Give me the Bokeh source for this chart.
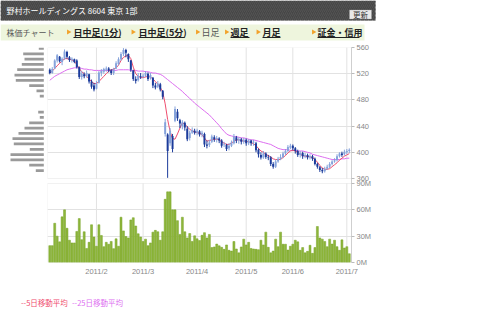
from bokeh.plotting import figure
from bokeh.layouts import column, row
from bokeh.models import Range1d, FixedTicker, ColumnDataSource, BoxAnnotation, Label
from bokeh.embed import file_html
from bokeh.resources import INLINE

# ---------------- data ----------------
opens = [526,521,528,540,546,538,543,553,545,541,542,540,530,515,519,516,519,508,502,497,
         506,521,523,526,528,525,521,528,535,542,550,556,550,540,525,512,510,516,515,517,
         520,513,514,502,500,504,494,428,427,414,425,448,462,449,440,445,436,422,430,433,
         430,432,427,428,412,411,416,423,420,421,418,411,411,406,410,414,423,418,420,416,
         419,414,418,415,414,404,396,392,398,393,392,382,378,386,390,393,398,402,407,410,
         406,402,396,399,394,396,392,394,390,382,377,373,371,375,378,382,386,388,394,398,
         397,400,402]
highs = [528,530,542,550,547,545,557,555,547,545,543,542,531,524,522,525,520,511,506,509,
         524,527,529,531,530,527,529,539,545,553,559,558,551,541,526,516,521,521,520,524,
         522,521,515,506,509,506,495,451,429,437,428,470,466,451,449,447,440,433,438,436,
         436,434,433,430,418,419,427,426,425,423,420,416,413,414,418,428,425,423,422,422,
         421,420,419,419,416,406,400,402,400,396,394,385,389,393,397,401,405,411,413,412,
         408,404,402,401,399,398,397,396,392,384,379,376,378,381,385,388,391,397,400,401,
         404,405,406]
lows = [519,520,527,537,537,533,541,543,538,537,536,528,512,511,513,514,505,497,493,496,
        505,516,520,523,522,518,518,527,533,540,547,545,538,523,509,505,508,512,513,515,
        509,511,498,496,498,493,481,424,361,410,400,446,448,437,435,433,417,418,428,427,
        426,424,423,408,406,408,414,416,415,414,407,408,402,403,408,412,414,413,412,413,
        410,411,410,410,400,392,389,390,390,388,379,375,376,384,388,391,396,400,405,403,
        398,393,392,390,391,389,389,387,380,375,370,368,369,373,376,380,384,386,392,393,
        395,397,399]
closes = [521,527,540,548,539,543,554,546,541,543,538,530,515,520,516,521,508,500,496,505,
          522,524,527,528,525,521,527,536,542,550,556,552,542,526,512,509,517,515,517,521,
          512,518,502,499,505,496,485,446,402,433,405,466,452,444,446,438,420,430,434,430,
          433,427,430,412,410,415,424,420,422,418,410,412,405,410,415,424,418,420,416,419,
          414,418,414,416,403,397,392,398,393,392,382,378,386,390,393,398,402,408,410,406,
          402,396,399,394,396,392,394,390,382,378,373,371,375,378,382,386,388,394,398,396,
          401,402,404]
ma5 = [521,524,528,532,536,539,543,543,542,541,539,534,528,523,520,516,512,508,505,505,
       508,512,516,520,524,526,527,529,533,540,545,547,548,543,530,520,516,514,514,515,
       516,515,512,508,504,499,492,474,450,432,421,420,428,437,445,443,439,435,433,431,
       430,429,427,422,417,418,419,420,420,419,416,414,412,412,414,417,419,419,418,417,
       417,416,415,413,410,406,402,400,397,395,393,390,389,389,389,392,395,399,402,403,
       402,400,397,395,394,394,393,392,389,385,380,376,374,374,375,378,381,384,388,391,
       394,396,398]
ma25 = [510,513,516,518,520,522,524,526,527,528,529,529,529,528,527,527,526,526,525,525,
        525,525,525,525,525,525,525,525,526,526,526,526,526,525,525,525,524,524,524,523,
        523,522,521,521,520,519,517,514,511,508,505,502,499,496,493,489,486,482,479,475,
        472,469,466,463,460,457,453,449,445,441,436,432,428,426,425,424,424,423,422,422,
        421,420,419,419,418,417,416,415,414,413,412,410,408,406,405,404,404,404,403,403,
        403,402,402,402,401,400,399,397,396,395,394,393,392,391,390,389,389,389,389,390,
        390,391,391]
volume_m = [19.2,19.2,44.7,30,23.5,52,60,39,25.4,22.3,22.3,35.4,50,26,35,16,23,43,29,18.5,
            43,30.8,18,23,20.8,24,15.8,27,18.5,51.6,36,29.6,28,48.5,51,41.6,32.7,29,24,26.6,
            19.2,22.3,34.6,36.6,35,25.4,35,72,80.5,80.5,60,60,47.7,32,51.6,35,28,33,24,30.4,
            27,25,31,34,28,32,17,17.7,21,19,17.3,15,20,13.9,13,23.9,15.4,11,17.7,26.6,
            20,23,16,15.4,15,14.6,25.4,20,34.6,17.3,11,13,26.6,18,34.6,20.8,20.8,14.2,18.5,20.8,
            25.4,23.5,13.9,17,11,12.7,19.6,10.4,17,41,28,26.6,24,18,26.6,21,25.4,18,13.9,25.8,
            16.5,18,10]
month_idx = [19, 38, 60, 80, 99, 121]
month_labels = ["2011/2", "2011/3", "2011/4", "2011/5", "2011/6", "2011/7"]
price_ticks = [360, 400, 440, 480, 520, 560]
volume_ticks = [0, 30, 60, 90]
volume_tick_labels = ["0M", "30M", "60M", "90M"]
hist_price = [558.5,550.4,542.3,534.2,526.1,518.0,509.9,501.8,493.7,485.6,477.5,469.4,
              461.3,453.2,445.1,437.0,428.9,420.8,412.7,404.6,396.5,388.4,380.3,372.2]
hist_vol = [5,20.6,19.3,22,26.6,29.3,28,14.6,7.3,4,0,0,
            5.6,4,14.6,19.3,25.3,31.3,30,14,33.3,33.3,14.6,8]

title_text = "野村ホールディングス 8604 東京 1部"
button_text = "更新"
tab_label = "株価チャート"
tabs = ["日中足(1分)", "日中足(5分)", "日足", "週足", "月足", "証金・信用"]
tab_active = [True, True, False, True, True, True]
legend_texts = ["--5日移動平均", "--25日移動平均"]

# ---------------- style / layout constants ----------------
JP = "Noto Sans CJK JP"
UP, DOWN = "#86a3db", "#1b3b9b"
MA5_C, MA25_C = "#ef4d6e", "#dd6ef0"
GRID_C = "#e2e2e2"
BORDER_C = "#cfcfcf"
LABEL_C = "#888888"
PRICE_LO, PRICE_HI, VOL_HI = price_ticks[0], price_ticks[-1], volume_ticks[-1]
PRICE_PX, GAP_PX, VOL_PX = 131, 5, 79          # panel heights in pixels
FL, FR = 47, 129                               # frame borders left/right

n = len(closes)
idx = list(range(n))
colors = [UP if c >= o else DOWN for o, c in zip(opens, closes)]
src = ColumnDataSource(dict(
    x=idx, l=lows, h=highs,
    top=[max(o, c) for o, c in zip(opens, closes)],
    bot=[min(o, c) for o, c in zip(opens, closes)],
    color=colors, ma5=ma5, ma25=ma25, vol=volume_m))

xr = Range1d(-0.94, 122.9)

def page_fig(h):
    # a full-page-width figure whose data coordinates equal its pixels
    f = figure(width=480, height=h, x_range=Range1d(0, 480), y_range=Range1d(h, 0),
               x_axis_location=None, y_axis_location=None, toolbar_location=None,
               output_backend="svg", min_border=0, min_border_left=0, min_border_right=0,
               min_border_top=0, min_border_bottom=0)
    f.grid.visible = False
    f.outline_line_color = None
    return f

# ---------------- header ----------------
hdr = page_fig(44)
hdr.add_layout(BoxAnnotation(left=0, right=375, top=0, bottom=20, fill_color="#464646",
                             fill_alpha=1, line_color=None,
                             hatch_pattern="right_diagonal_line", hatch_color="#535353",
                             hatch_scale=4, hatch_weight=1))
hdr.add_layout(Label(x=6, y=10, text=title_text, text_font=JP, text_font_size="8px",
                     text_color="white", text_baseline="middle"))
hdr.add_layout(BoxAnnotation(left=349, right=371, top=9.5, bottom=18.5, fill_color="#e8e8e8",
                             fill_alpha=1, line_color="#a0a0a0", line_width=1))
hdr.add_layout(Label(x=360, y=14, text=button_text, text_font=JP, text_font_size="7.5px",
                     text_color="#333333", text_align="center", text_baseline="middle"))
hdr.add_layout(BoxAnnotation(left=0, right=364, top=24, bottom=40, fill_color="#eef5dd",
                             fill_alpha=1, line_color=None, level="underlay"))
hdr.add_layout(Label(x=6, y=31.5, text=tab_label, text_font=JP, text_font_size="8px",
                     text_color="#555555", text_baseline="middle"))
tab_x = [73, 138, 201, 230, 262, 317]
tab_end = [120, 184, 217, 249, 280, 359]
tri_x = [68, 132.5, 197, 226, 257.5, 313]
hdr.scatter(x=tri_x, y=[31.5] * 6, marker="triangle", size=5, angle=-1.5708,
            fill_color="#f2a22a", line_color=None)
for t, xx, xe, act in zip(tabs, tab_x, tab_end, tab_active):
    hdr.add_layout(Label(x=xx, y=31.5, text=t, text_font=JP, text_font_size="9px",
                         text_font_style="bold" if act else "normal",
                         text_color="#222222" if act else "#555555", text_baseline="middle"))
    if act:
        hdr.add_layout(BoxAnnotation(left=xx, right=xe, top=36.5, bottom=37.5,
                                     fill_color="#222222", fill_alpha=1, line_color=None))

# ---------------- main chart (price + volume share one canvas) ----------------
price_start = PRICE_LO - (GAP_PX + VOL_PX) / PRICE_PX * (PRICE_HI - PRICE_LO)
vol_end = VOL_HI * (VOL_PX + GAP_PX + PRICE_PX) / VOL_PX
pyr = Range1d(price_start, PRICE_HI)
# volume tick positions expressed on the price scale (one shared right axis)
vol_tick_pos = [price_start + v / vol_end * (PRICE_HI - price_start) for v in volume_ticks]

main_h = 3 + PRICE_PX + GAP_PX + VOL_PX + 18
main = figure(width=480 - FL, height=main_h, x_range=xr, y_range=pyr,
              x_axis_location="below", y_axis_location="right", toolbar_location=None,
              output_backend="svg", min_border_left=0, min_border_right=FR,
              min_border_top=3, min_border_bottom=18)
main.extra_y_ranges = {"vol": Range1d(0, vol_end)}
main.outline_line_color = None
main.xgrid.visible = False
main.ygrid.ticker = FixedTicker(ticks=price_ticks[1:-1] + vol_tick_pos[1:-1])
main.ygrid.grid_line_color = GRID_C
main.segment(x0=month_idx, y0=[PRICE_LO] * 6, x1=month_idx, y1=[PRICE_HI] * 6,
             line_color=GRID_C, level="underlay")
main.segment(x0=month_idx, y0=[0] * 6, x1=month_idx, y1=[VOL_HI] * 6,
             line_color=GRID_C, level="underlay", y_range_name="vol")
main.add_layout(BoxAnnotation(bottom=PRICE_LO, top=PRICE_HI, fill_color=None,
                              line_color=BORDER_C, line_width=1))
main.add_layout(BoxAnnotation(bottom=0, top=VOL_HI, y_range_name="vol", fill_color=None,
                              line_color=BORDER_C, line_width=1))

ya = main.yaxis[0]
ya.ticker = FixedTicker(ticks=price_ticks + vol_tick_pos)
ya.major_label_overrides = {p: l for p, l in zip(vol_tick_pos, volume_tick_labels)}
ya.axis_line_color = BORDER_C
ya.major_tick_line_color = "#bbbbbb"
ya.major_tick_out = 3
ya.major_tick_in = 0
ya.minor_tick_out = 0
ya.major_label_standoff = 2
ya.major_label_text_font = "Liberation Sans"
ya.major_label_text_font_size = "7.5px"
ya.major_label_text_color = LABEL_C

xa = main.xaxis[0]
xa.ticker = FixedTicker(ticks=month_idx)
xa.major_label_overrides = {m: l for m, l in zip(month_idx, month_labels)}
xa.axis_line_color = None
xa.major_tick_line_color = None
xa.minor_tick_line_color = None
xa.major_tick_out = 0
xa.major_label_standoff = 4
xa.major_label_text_font = "Liberation Sans"
xa.major_label_text_font_size = "7.5px"
xa.major_label_text_color = LABEL_C

main.line("x", "ma25", source=src, line_color=MA25_C, line_width=1)
main.line("x", "ma5", source=src, line_color=MA5_C, line_width=1)
main.segment(x0="x", y0="l", x1="x", y1="h", source=src, line_color="color", line_width=1)
main.vbar(x="x", width=0.8, top="top", bottom="bot", source=src,
          fill_color="color", line_color=None)
main.vbar(x="x", width=0.8, top="vol", bottom=0, source=src, y_range_name="vol",
          fill_color="#8fb73c", line_color="#74a023", line_width=0.5)

# ---------------- price-by-volume ----------------
hist = figure(width=FL, height=main_h, x_range=Range1d(43.3, -3.7), y_range=pyr,
              x_axis_location=None, y_axis_location=None, toolbar_location=None,
              output_backend="svg", min_border_left=0, min_border_right=0,
              min_border_top=3, min_border_bottom=18)
hist.grid.visible = False
hist.outline_line_color = None
hist.hbar(y=hist_price, left=0, right=hist_vol, height=4.2, fill_color="#9a9a9a", line_color=None)

# ---------------- footer legend ----------------
foot = page_fig(30)
for t, xx, c in zip(legend_texts, [20.5, 71.5], [MA5_C, MA25_C]):
    foot.add_layout(Label(x=xx, y=21.5, text=t, text_font=JP, text_font_size="7.5px",
                          text_color=c, text_baseline="middle"))

layout = column(hdr, row(hist, main), foot)
open("out.html", "w").write(file_html(layout, INLINE, "chart"))
